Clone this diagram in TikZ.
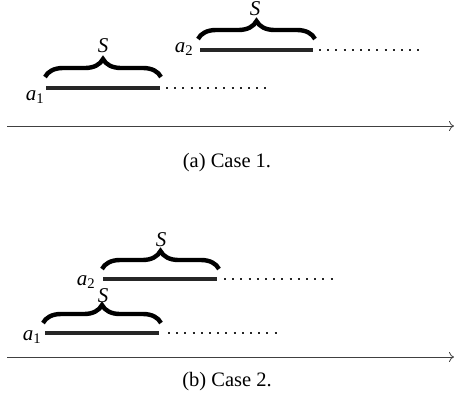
\documentclass[tikz,border=0pt]{standalone}
\usepackage{fontspec}
\setmainfont{Liberation Serif}
\usetikzlibrary{decorations.pathreplacing,arrows.meta}
\begin{document}
\begin{tikzpicture}[x=1pt,y=-1pt,
  bar/.style={line width=4pt,draw=black!85},
  dotline/.style={line width=2pt,dash pattern=on 2pt off 6.2pt,draw=black!85},
  brc/.style={decorate,decoration={brace,amplitude=18pt},line width=4.4pt},
  axisline/.style={line width=0.8pt,draw=black!75,-{To[length=5pt,width=10pt]}},
  lab/.style={font=\fontsize{21}{24}\selectfont\itshape,inner sep=0pt},
  captext/.style={font=\fontsize{20.5}{24}\selectfont,inner sep=0pt}]
\useasboundingbox (0,0) rectangle (454,416);
% Case 1
\coordinate (b1s) at (46,88); \coordinate (b1e) at (160,88); \coordinate (d1e) at (272,88);
\coordinate (b2s) at (200,50); \coordinate (b2e) at (313,50); \coordinate (d2e) at (420,50);
\draw[bar] (b1s) -- (b1e);
\draw[dotline] ([xshift=6pt]b1e) -- (d1e);
\draw[brc] (45,77) -- (161,77);
\node[lab] (s1) at (103,46) {S};
\node[lab] (la1) at (35,97) {a\textsubscript{\upshape 1}};
\draw[bar] (b2s) -- (b2e);
\draw[dotline] ([xshift=6pt]b2e) -- (d2e);
\draw[brc] (198,39) -- (315,39);
\node[lab] (s2) at (255,9) {S};
\node[lab] (la2) at (184,49) {a\textsubscript{\upshape 2}};
\coordinate (ax1s) at (7,126); \coordinate (ax1e) at (454,126);
\draw[axisline] (ax1s) -- (ax1e);
\node[captext] (c1) at (227,163) {(a) Case 1.};
% Case 2
\coordinate (e1s) at (45,333); \coordinate (e1e) at (159,333); \coordinate (f1e) at (278,333);
\coordinate (e2s) at (103,279); \coordinate (e2e) at (217,279); \coordinate (f2e) at (334,279);
\draw[bar] (e1s) -- (e1e);
\draw[dotline] ([xshift=9pt]e1e) -- (f1e);
\draw[brc] (43,323) -- (161,323);
\node[lab] (s3) at (103,296) {S};
\node[lab] (la3) at (32,337) {a\textsubscript{\upshape 1}};
\draw[bar] (e2s) -- (e2e);
\draw[dotline] ([xshift=7pt]e2e) -- (f2e);
\draw[brc] (102,269) -- (219,269);
\node[lab] (s4) at (161,240) {S};
\node[lab] (la4) at (86,282) {a\textsubscript{\upshape 2}};
\coordinate (ax2s) at (7,357); \coordinate (ax2e) at (454,357);
\draw[axisline] (ax2s) -- (ax2e);
\node[captext] (c2) at (227,382) {(b) Case 2.};
\end{tikzpicture}
\end{document}
